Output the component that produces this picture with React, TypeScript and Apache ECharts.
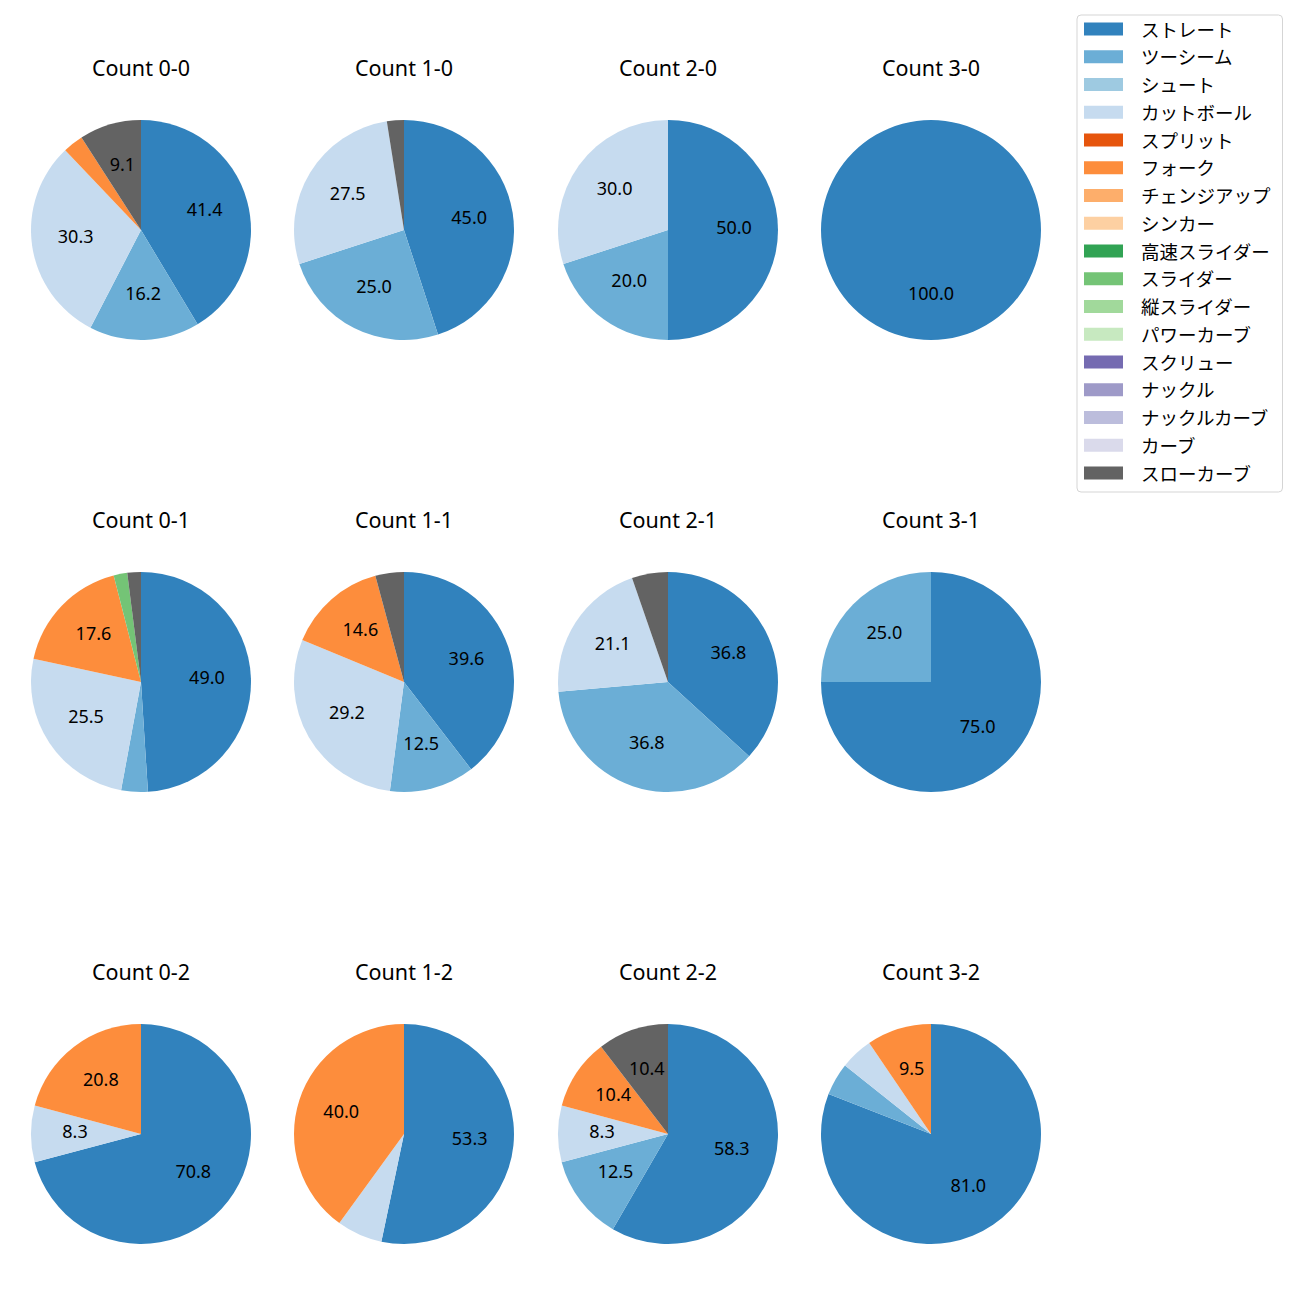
import React, { useEffect, useRef } from "react";
import * as echarts from "echarts";

const pitchTypes = [
  "ストレート", "ツーシーム", "シュート", "カットボール", "スプリット", "フォーク",
  "チェンジアップ", "シンカー", "高速スライダー", "スライダー", "縦スライダー",
  "パワーカーブ", "スクリュー", "ナックル", "ナックルカーブ", "カーブ", "スローカーブ",
];

const pitchColors = [
  "#3182bd", "#6baed6", "#9ecae1", "#c6dbef", "#e6550d", "#fd8d3c",
  "#fdae6b", "#fdd0a2", "#31a354", "#74c476", "#a1d99b", "#c7e9c0",
  "#756bb1", "#9e9ac8", "#bcbddc", "#dadaeb", "#636363",
];

// percentages per pitch type (same order as pitchTypes)
const count00 = [41.4, 16.2, 0, 30.3, 0, 3.0, 0, 0, 0, 0, 0, 0, 0, 0, 0, 0, 9.1];
const count10 = [45.0, 25.0, 0, 27.5, 0, 0, 0, 0, 0, 0, 0, 0, 0, 0, 0, 0, 2.5];
const count20 = [50.0, 20.0, 0, 30.0, 0, 0, 0, 0, 0, 0, 0, 0, 0, 0, 0, 0, 0];
const count30 = [100.0, 0, 0, 0, 0, 0, 0, 0, 0, 0, 0, 0, 0, 0, 0, 0, 0];
const count01 = [49.0, 3.9, 0, 25.5, 0, 17.6, 0, 0, 0, 2.0, 0, 0, 0, 0, 0, 0, 2.0];
const count11 = [39.6, 12.5, 0, 29.2, 0, 14.6, 0, 0, 0, 0, 0, 0, 0, 0, 0, 0, 4.2];
const count21 = [36.8, 36.8, 0, 21.1, 0, 0, 0, 0, 0, 0, 0, 0, 0, 0, 0, 0, 5.3];
const count31 = [75.0, 25.0, 0, 0, 0, 0, 0, 0, 0, 0, 0, 0, 0, 0, 0, 0, 0];
const count02 = [70.8, 0, 0, 8.3, 0, 20.8, 0, 0, 0, 0, 0, 0, 0, 0, 0, 0, 0];
const count12 = [53.3, 0, 0, 6.7, 0, 40.0, 0, 0, 0, 0, 0, 0, 0, 0, 0, 0, 0];
const count22 = [58.3, 12.5, 0, 8.3, 0, 10.4, 0, 0, 0, 0, 0, 0, 0, 0, 0, 0, 10.4];
const count32 = [81.0, 4.8, 0, 4.8, 0, 9.5, 0, 0, 0, 0, 0, 0, 0, 0, 0, 0, 0];

const countTitles = [
  "Count 0-0", "Count 1-0", "Count 2-0", "Count 3-0",
  "Count 0-1", "Count 1-1", "Count 2-1", "Count 3-1",
  "Count 0-2", "Count 1-2", "Count 2-2", "Count 3-2",
];
const countValues = [
  count00, count10, count20, count30,
  count01, count11, count21, count31,
  count02, count12, count22, count32,
];

const FONT = "'Noto Sans', 'Noto Sans CJK JP', sans-serif";
const colX = [141, 404, 668, 931];
const rowY = [230, 682, 1134];
const R = 110;

export default function App() {
  const ref = useRef<HTMLDivElement>(null);
  useEffect(() => {
    if (!ref.current) return;
    const chart = echarts.init(ref.current, null, { renderer: "svg" });
    const makeData = (vals: number[]) =>
      pitchTypes.map((name, i) => ({
        name,
        value: vals[i],
        itemStyle: { color: pitchColors[i] },
      }));
    const centers = countValues.map((_, i) => [colX[i % 4], rowY[Math.floor(i / 4)]]);
    const pies: any[] = countValues.map((vals, i) => ({
      type: "pie",
      center: centers[i],
      radius: [0, R],
      startAngle: 90,
      clockwise: true,
      silent: true,
      avoidLabelOverlap: false,
      label: { show: false },
      labelLine: { show: false },
      itemStyle: { borderWidth: 0 },
      emphasis: { disabled: true },
      data: makeData(vals),
    }));
    const labelPies: any[] = countValues.map((vals, i) => ({
      type: "pie",
      center: centers[i],
      radius: [16, R],
      startAngle: 90,
      clockwise: true,
      silent: true,
      avoidLabelOverlap: false,
      labelLine: { show: false },
      labelLayout: { dy: -3 },
      itemStyle: { borderWidth: 0, color: "rgba(0,0,0,0)" },
      emphasis: { disabled: true },
      label: {
        show: true,
        position: "inside",
        color: "#000",
        fontSize: 18,
        fontFamily: FONT,
        formatter: (p: any) => (p.value > 7 ? Number(p.value).toFixed(1) : ""),
      },
      data: makeData(vals).map((d) => ({ ...d, itemStyle: { color: "rgba(0,0,0,0)" } })),
    }));
    chart.setOption({
      animation: false,
      backgroundColor: "#fff",
      title: countTitles.map((t, i) => ({
        text: t,
        left: centers[i][0],
        top: centers[i][1] - 161 - 13,
        textAlign: "center",
        padding: 0,
        textStyle: {
          fontSize: 21.5,
          fontWeight: "normal",
          color: "#000",
          fontFamily: FONT,
          lineHeight: 22,
        },
      })),
      legend: {
        orient: "vertical",
        left: 1077,
        top: 15,
        padding: [4, 12, 9, 7],
        itemWidth: 39,
        itemHeight: 13,
        itemGap: 7.75,
        icon: "rect",
        backgroundColor: "#fff",
        borderColor: "#d5d5d5",
        borderWidth: 1,
        borderRadius: 4,
        selectedMode: false,
        data: pitchTypes,
        textStyle: {
          fontSize: 18.5,
          fontFamily: FONT,
          color: "#000",
          lineHeight: 20,
          padding: [0, 0, 0, 13],
        },
      },
      series: [...pies, ...labelPies],
    });
    return () => chart.dispose();
  }, []);
  return (
    <div
      ref={ref}
      style={{ position: "absolute", left: 0, top: 0, width: 1300, height: 1300 }}
    />
  );
}
